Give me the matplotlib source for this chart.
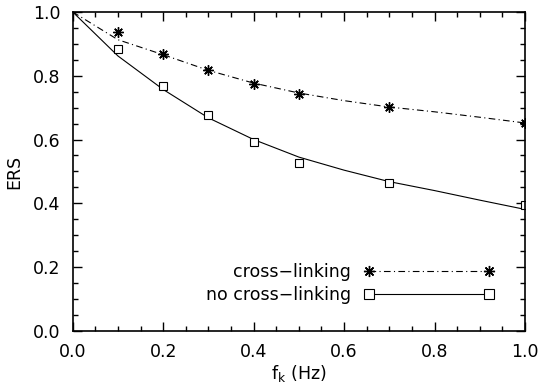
import matplotlib
matplotlib.use("Agg")
import matplotlib.pyplot as plt
from matplotlib.ticker import MultipleLocator

# measured points
fk_pts = [0.1, 0.2, 0.3, 0.4, 0.5, 0.7, 1.0]
ers_xlink = [0.937, 0.869, 0.818, 0.774, 0.743, 0.703, 0.653]
ers_noxlink = [0.883, 0.768, 0.678, 0.592, 0.527, 0.463, 0.394]

# model curves
fk_line = [0.0, 0.1, 0.2, 0.3, 0.4, 0.5, 0.6, 0.7, 0.8, 0.9, 1.0]
model_xlink = [1.0, 0.913, 0.866, 0.817, 0.777, 0.746, 0.722, 0.702, 0.687, 0.670, 0.652]
model_noxlink = [1.0, 0.862, 0.757, 0.668, 0.600, 0.545, 0.504, 0.468, 0.440, 0.410, 0.381]

plt.rcParams['font.family'] = 'DejaVu Sans'
plt.rcParams['font.size'] = 12.5

fig = plt.figure(figsize=(5.39, 3.87), dpi=100)
ax = fig.add_axes([0.135, 0.145, 0.839, 0.824])

star = (8, 2, 0)
dashdot = (0, (6, 3, 1, 3))
ax.plot(fk_line, model_xlink, color='black', lw=0.8, linestyle=dashdot)
ax.plot(fk_line, model_noxlink, color='black', lw=0.8, linestyle='-')
ax.plot(fk_pts, ers_xlink, linestyle='none', marker=star, color='black', markersize=7.5, mew=1.0)
ax.plot(fk_pts, ers_noxlink, linestyle='none', marker='s', mfc='white', mec='black', markersize=6, mew=0.8)

# legend handles
h1, = ax.plot([], [], color='black', lw=0.8, linestyle=dashdot,
              marker=star, markersize=8, mew=1.0)
h2, = ax.plot([], [], color='black', lw=0.8, linestyle='-',
              marker='s', mfc='white', mec='black', markersize=7.5, mew=0.8)
ax.legend([h1, h2], ['cross\u2212linking', 'no cross\u2212linking'],
          loc='lower right', bbox_to_anchor=(0.932, 0.085), frameon=False,
          markerfirst=False, numpoints=2, handlelength=7.5, handletextpad=0.75,
          labelspacing=0.25, borderpad=0, borderaxespad=0)

ax.set_xlim(0, 1)
ax.set_ylim(0, 1)
ax.xaxis.set_major_locator(MultipleLocator(0.2))
ax.xaxis.set_minor_locator(MultipleLocator(0.05))
ax.yaxis.set_major_locator(MultipleLocator(0.2))
ax.yaxis.set_minor_locator(MultipleLocator(0.05))
ax.xaxis.set_major_formatter(plt.FormatStrFormatter('%.1f'))
ax.yaxis.set_major_formatter(plt.FormatStrFormatter('%.1f'))
ax.tick_params(which='both', direction='in', top=True, right=True, width=1.0)
ax.tick_params(which='major', length=6.5, pad=9)
ax.tick_params(which='minor', length=3.5)
for s in ax.spines.values():
    s.set_linewidth(1.2)

ax.set_xlabel(r'f$_{\rm k}$ (Hz)', labelpad=1)
ax.set_ylabel('ERS', labelpad=7)

fig.savefig('out.png', dpi=100)
